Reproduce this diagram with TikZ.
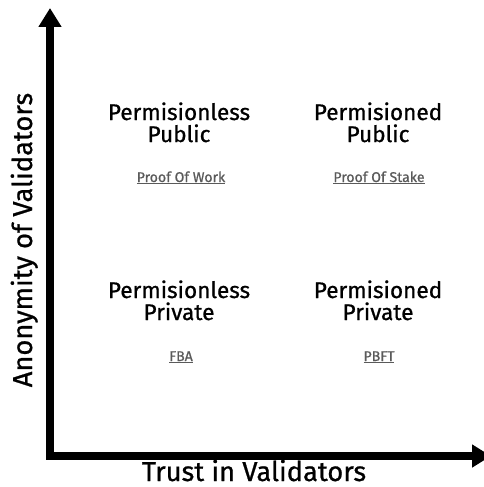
\documentclass[tikz,border=0pt]{standalone}
\usepackage{fontspec}
\setmainfont{Fira Sans}[FakeBold=0.8]
\usetikzlibrary{arrows.meta}
\definecolor{subgray}{HTML}{5A5A5A}
\tikzset{
  axis/.style={line width=8pt, line join=miter, {Triangle[width=22pt,length=19pt]}-{Triangle[width=22pt,length=19pt]}},
  quadtitle/.style={anchor=base, align=center, font=\fontsize{22.6}{22}\selectfont, inner sep=0pt},
  quadsub/.style={anchor=base, text=subgray, font=\fontsize{14.1}{15}\selectfont, inner sep=0pt},
  axislabel/.style={anchor=base, font=\fontsize{27.3}{28}\selectfont, inner sep=0pt, text depth=0pt}
}
\newcommand{\subu}[1]{\underline{#1}}
\begin{document}
\begin{tikzpicture}[x=1pt,y=-1pt]
\useasboundingbox (0,0) rectangle (484,487);
\coordinate (ytip) at (50,8);
\coordinate (origin) at (50,456);
\coordinate (xtip) at (491,456);
\draw[axis] (ytip) -- (origin) -- (xtip);
\node[quadtitle] (pl) at (179,142) {Permisionless\\Public};
\node[quadtitle] (pd) at (378,142) {Permisioned\\Public};
\node[quadtitle] (vl) at (179,320) {Permisionless\\Private};
\node[quadtitle] (vd) at (378,320) {Permisioned\\Private};
\node[quadsub] (pow) at (181,182) {\subu{Proof Of Work}};
\node[quadsub] (pos) at (379,182) {\subu{Proof Of Stake}};
\node[quadsub] (fba) at (181,361) {\subu{FBA}};
\node[quadsub] (pbft) at (379,361) {\subu{PBFT}};
\node[axislabel] (xl) at (254,481) {Trust in Validators};
\node[axislabel, rotate=90] (yl) at (32,240) {Anonymity of Validators};
\end{tikzpicture}
\end{document}
